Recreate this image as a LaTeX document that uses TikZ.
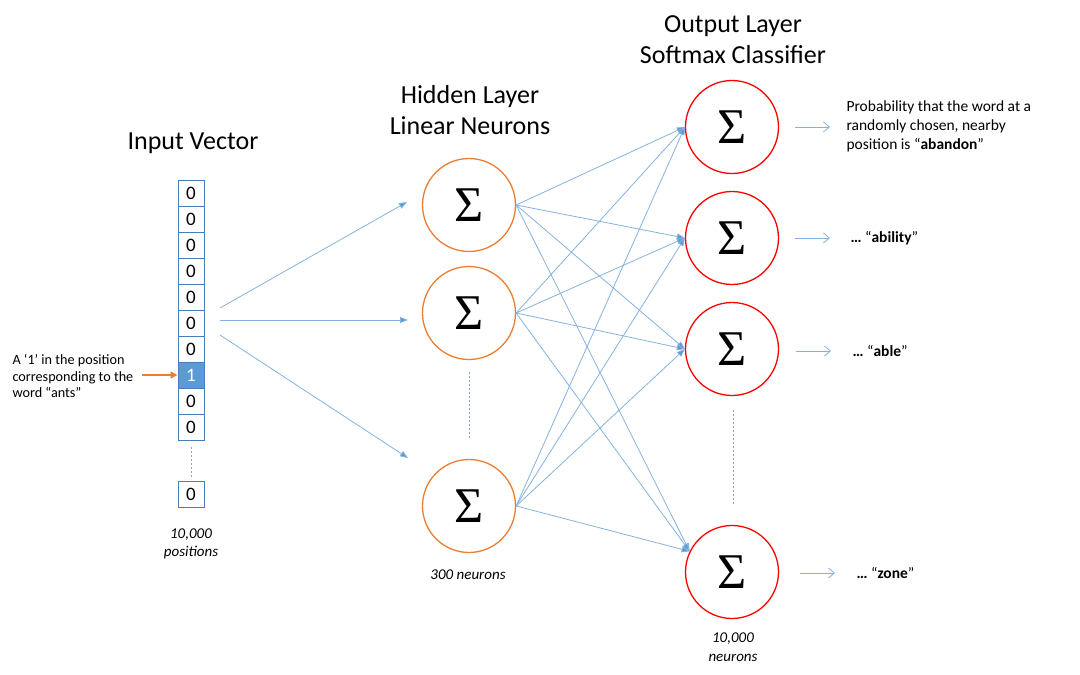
\documentclass[tikz,border=0pt]{standalone}
\usepackage{fontspec}
\setmainfont{Carlito}
\newfontfamily\sigfont{Liberation Serif}
\usetikzlibrary{arrows.meta,calc}
\definecolor{ablue}{HTML}{5B9BD5}
\definecolor{lblue}{HTML}{85B2DE}
\definecolor{bblue}{HTML}{4A7EBB}
\definecolor{aorange}{HTML}{ED7D31}
\definecolor{ared}{HTML}{FF0000}
\begin{document}
\begin{tikzpicture}[x=1pt,y=-1pt,
  cell/.style={draw=bblue, line width=1pt, minimum width=26pt, minimum height=26pt, inner sep=0pt, font=\fontsize{19}{19}\selectfont},
  hid/.style={circle, draw=aorange, line width=1.3pt, minimum size=93pt, inner sep=0pt, font=\sigfont\fontsize{50}{50}\selectfont},
  outn/.style={circle, draw=ared, line width=1.3pt, minimum size=93pt, inner sep=0pt, font=\sigfont\fontsize{50}{50}\selectfont},
  conn/.style={draw=lblue, line width=0.8pt, -{Triangle[length=8pt,width=6pt,fill=ablue]}},
  inarr/.style={draw=lblue, line width=0.8pt, -{Triangle[length=8pt,width=6pt,fill=ablue]}},
  outarr/.style={draw=lblue, line width=0.8pt, -{Straight Barb[length=6pt,width=10pt]}},
  dots/.style={draw=lblue!80!gray, line width=0.7pt, dash pattern=on 2pt off 2pt},
  title/.style={font=\fontsize{26}{30.5}\selectfont, align=center},
  small/.style={font=\fontsize{15.5}{19}\selectfont, align=left},
  note/.style={font=\fontsize{15}{18.5}\selectfont\itshape, align=center}
]
\useasboundingbox (0,0) rectangle (1080,675);

% titles
\node[title] (tin) at (193,143) {Input Vector};
\node[title] (thid) at (470,110) {Hidden Layer\\Linear Neurons};
\node[title] (tout) at (733,39.5) {Output Layer\\Softmax Classifier};

% input vector
\foreach \i in {0,1,2,3,4,5,6,8,9} {
  \node[cell] (c\i) at (191,{193+26*\i}) {0};
}
\node[cell, fill=ablue, text=white] (c7) at (191,375) {1};
\node[cell] (clast) at (191,494.5) {0};
\draw[dots] ($(c9.south)+(0,6)$) -- ($(clast.north)+(0,-4)$);
\node[note] (npos) at (191,544) {10,000\\positions};

% left note
\node[small, font=\fontsize{14.2}{16.5}\selectfont, anchor=west] (lnote) at (9,376) {A ‘1’ in the position\\corresponding to the\\word “ants”};
\coordinate (oa) at (142,375);
\draw[draw=aorange, line width=1.5pt, -{Triangle[length=7pt,width=7pt]}] (oa) -- (c7.west);

% hidden neurons
\node[hid] (h1) at (469,205) {Σ};
\node[hid] (h2) at (469,313) {Σ};
\node[hid] (h3) at (469,506) {Σ};
\draw[dots] (469,372) coordinate (hd1) -- (469,440) coordinate (hd2);
\node[note] (n300) at (468,575) {300 neurons};

% input arrows
\coordinate (s1) at (220,308); \coordinate (e1) at (407,202);
\coordinate (s2) at (220,320); \coordinate (e2) at (408,320);
\coordinate (s3) at (220,335); \coordinate (e3) at (408,458);
\draw[inarr] (s1) -- (e1);
\draw[inarr] (s2) -- (e2);
\draw[inarr] (s3) -- (e3);

% output neurons
\node[outn] (o1) at (732,127) {Σ};
\node[outn] (o2) at (732,238) {Σ};
\node[outn] (o3) at (732,349) {Σ};
\node[outn] (o4) at (732,572) {Σ};
\draw[dots] (733,410) coordinate (od1) -- (733,505) coordinate (od2);
\node[note] (n10k) at (733,647) {10,000\\neurons};

% hidden -> output
\foreach \h in {h1,h2,h3} {
  \draw[conn] (\h.east) -- (o1.west);
  \draw[conn] (\h.east) -- (o2.west);
  \draw[conn] (\h.east) -- (o3.west);
  \draw[conn] (\h.east) -- (o4.154);
}

% output arrows and labels
\coordinate (r1a) at (795,127); \coordinate (r1b) at (830,127);
\coordinate (r2a) at (795,238); \coordinate (r2b) at (830,238);
\coordinate (r3a) at (796,351); \coordinate (r3b) at (831,351);
\coordinate (r4a) at (800,573); \coordinate (r4b) at (835,573);
\draw[outarr] (r1a) -- (r1b);
\draw[outarr] (r2a) -- (r2b);
\draw[outarr] (r3a) -- (r3b);
\draw[outarr] (r4a) -- (r4b);
\node[small, anchor=west] (l1) at (843,126) {Probability that the word at a\\randomly chosen, nearby\\position is “\textbf{abandon}”};
\node[small, anchor=west] (l2) at (847,238) {\textbf{…} “\textbf{ability}”};
\node[small, anchor=west] (l3) at (849,351) {\textbf{…} “\textbf{able}”};
\node[small, anchor=west] (l4) at (853,573) {\textbf{…} “\textbf{zone}”};
\end{tikzpicture}
\end{document}
